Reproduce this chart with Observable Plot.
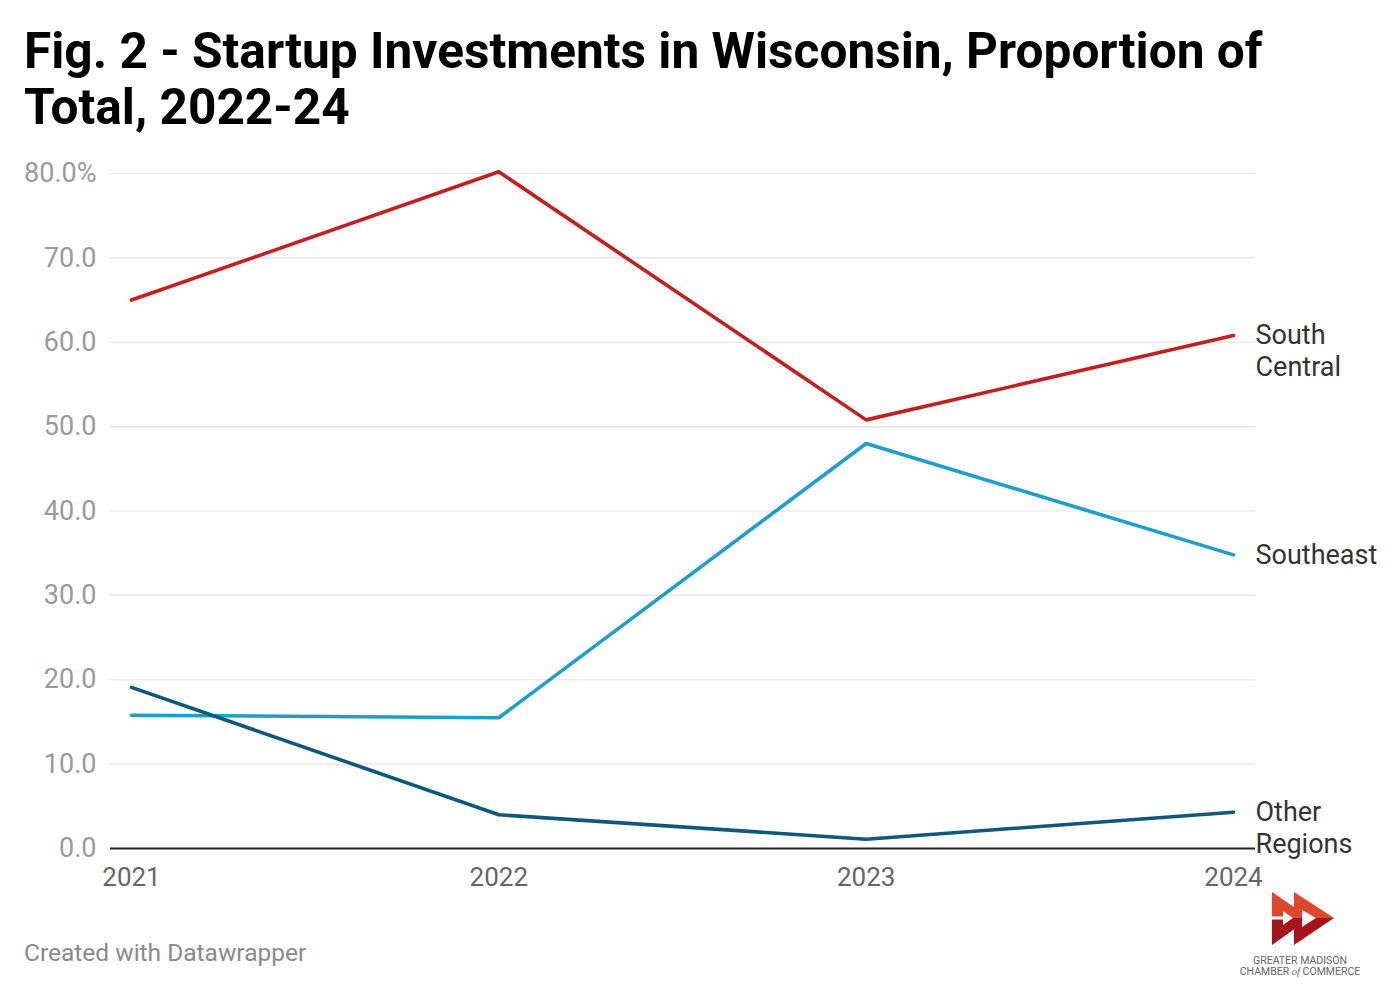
<!DOCTYPE html>
<html>
<head>
<meta charset="utf-8">
<script src="https://cdn.jsdelivr.net/npm/d3@7"></script>
<script src="https://cdn.jsdelivr.net/npm/@observablehq/plot@0.6"></script>
<style>
  html, body { margin: 0; padding: 0; background: #fff; }
  body { width: 1400px; height: 1000px; position: relative; font-family: Roboto, "Noto Sans", sans-serif; overflow: hidden; }
  #title { position: absolute; left: 24px; top: 23px; font-size: 49.6px; font-weight: 700; line-height: 56px; color: #000; white-space: nowrap; }
  #chart { position: absolute; left: 0; top: 140px; }
  #footer { position: absolute; left: 24px; top: 938px; font-size: 24.5px; color: #8a8a8a; }
  #logo { position: absolute; left: 1230px; top: 885px; }
</style>
</head>
<body>
<div id="title">Fig. 2 - Startup Investments in Wisconsin, Proportion of<br>Total, 2022-24</div>
<div id="chart"></div>
<div id="footer">Created with Datawrapper</div>
<svg id="logo" width="150" height="95" viewBox="0 0 150 95">
  <polygon points="42,7 80,33 42,33" fill="#e0472a"/>
  <polygon points="42,33 80,33 42,60" fill="#a5141a"/>
  <polygon points="64,7 104,33 64,33" fill="#e0472a"/>
  <polygon points="64,33 104,33 64,60" fill="#a5141a"/>
  <rect x="42" y="31.5" width="13" height="3" fill="#fff"/>
  <polygon points="53,26 63,33 53,40" fill="#fff"/>
  <polygon points="72,25 86,33 72,42" fill="#fff"/>
  <text x="70" y="79" text-anchor="middle" font-family="Roboto, sans-serif" font-size="10.5" fill="#666">GREATER MADISON</text>
  <text x="70" y="90" text-anchor="middle" font-family="Roboto, sans-serif" font-size="10.5" fill="#666">CHAMBER <tspan font-style="italic" font-family="Liberation Serif, serif">of</tspan> COMMERCE</text>
</svg>
<script>
const years = [2021, 2022, 2023, 2024];
const southCentral = [65.0, 80.2, 50.8, 60.8];
const southeast = [15.8, 15.5, 48.0, 34.8];
const otherRegions = [19.1, 4.0, 1.1, 4.3];
const seriesNames = ["South Central", "Southeast", "Other Regions"];
const seriesLabels = ["South\nCentral", "Southeast", "Other\nRegions"];
const seriesColors = ["#c71e1d", "#18a1cd", "#0b5a7e"];
const yTicks = [0, 10, 20, 30, 40, 50, 60, 70, 80];

const seriesValues = [southCentral, southeast, otherRegions];
const data = [];
seriesNames.forEach((name, i) => {
  years.forEach((yr, j) => data.push({series: name, year: yr, value: seriesValues[i][j]}));
});
const lastPoints = seriesNames.map((name, i) => ({series: name, label: seriesLabels[i], year: years[years.length - 1], value: seriesValues[i][years.length - 1]}));

const chart = Plot.plot({
  width: 1400,
  height: 760,
  marginTop: 33,
  marginBottom: 52,
  marginLeft: 110,
  marginRight: 145,
  style: {fontFamily: "Roboto, sans-serif", background: "#fff", overflow: "visible"},
  x: {domain: [2021, 2024], insetLeft: 21, insetRight: 22, ticks: years},
  y: {domain: [0, 80]},
  color: {domain: seriesNames, range: seriesColors},
  marks: [
    Plot.ruleY(yTicks.filter(d => d !== 0), {stroke: "#e3e3e3", strokeWidth: 1.2}),
    Plot.axisY({ticks: yTicks, tickSize: 0, tickPadding: 14, fontSize: 27, fill: "#9a9a9a", label: null,
      tickFormat: d => d === 80 ? "80.0%" : d.toFixed(1)}),
    Plot.axisX({ticks: years, tickSize: 0, tickPadding: 19, fontSize: 26, fill: "#666", label: null, tickFormat: d => String(d)}),
    Plot.ruleY([0], {stroke: "#222", strokeWidth: 2}),
    Plot.line(data, {x: "year", y: "value", z: "series", stroke: "series", strokeWidth: 3.6, strokeLinejoin: "round", strokeLinecap: "round"}),
    Plot.text(lastPoints, {x: "year", y: "value", text: "label", dx: 22, dy: -14, textAnchor: "start", lineAnchor: "top", lineHeight: 1.19, fontSize: 27, fill: "#333"})
  ]
});
document.getElementById("chart").appendChild(chart);
</script>
</body>
</html>
